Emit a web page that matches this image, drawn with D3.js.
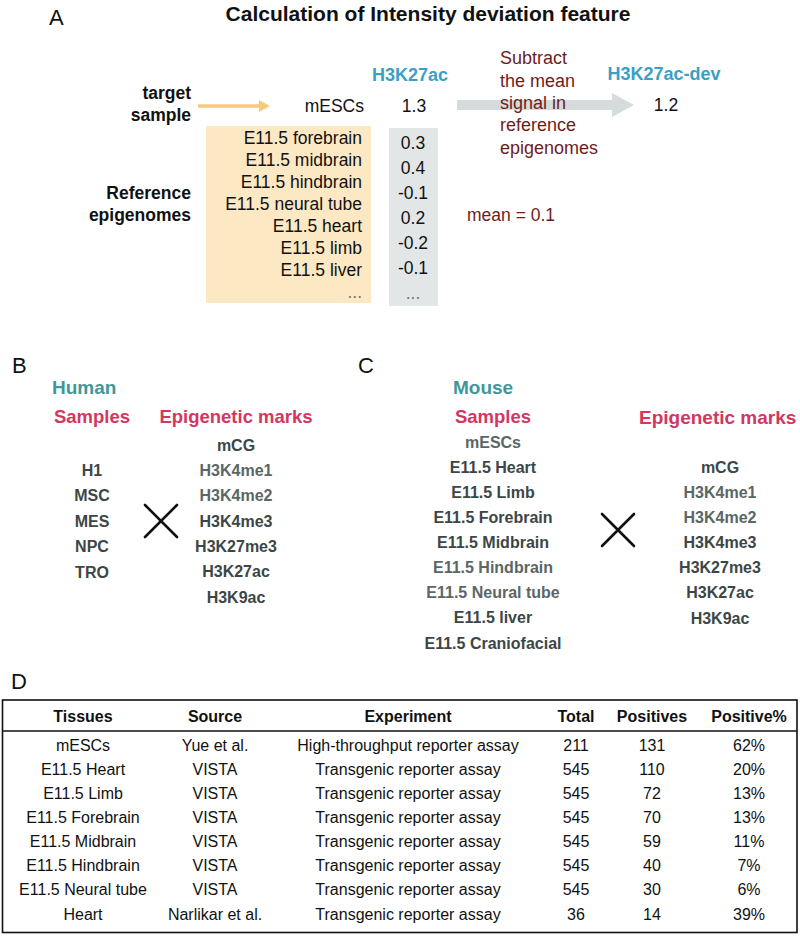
<!DOCTYPE html>
<html>
<head>
<meta charset="utf-8">
<script src="https://cdn.jsdelivr.net/npm/d3@7"></script>
<style>
  html, body { margin: 0; padding: 0; background: #fff; }
  svg { display: block; font-family: "Liberation Sans", Arial, Helvetica, sans-serif; }
</style>
</head>
<body>
<div id="chart"></div>
<script>
// ---------------- DATA ----------------
const titleText = "Calculation of Intensity deviation feature";
const markName = "H3K27ac";
const devName = "H3K27ac-dev";
const targetSample = "mESCs";
const targetValue = 1.3;
const devValue = 1.2;
const meanValue = 0.1;
const refSamples = ["E11.5 forebrain", "E11.5 midbrain", "E11.5 hindbrain", "E11.5 neural tube",
                    "E11.5 heart", "E11.5 limb", "E11.5 liver", "..."];
const refValues = [0.3, 0.4, -0.1, 0.2, -0.2, -0.1];
const subtractLines = ["Subtract", "the mean", "signal in", "reference", "epigenomes"];

const humanSamples = ["H1", "MSC", "MES", "NPC", "TRO"];
const epiMarks = ["mCG", "H3K4me1", "H3K4me2", "H3K4me3", "H3K27me3", "H3K27ac", "H3K9ac"];
const mouseSamples = ["mESCs", "E11.5 Heart", "E11.5 Limb", "E11.5 Forebrain", "E11.5 Midbrain",
                      "E11.5 Hindbrain", "E11.5 Neural tube", "E11.5 liver", "E11.5 Craniofacial"];

const tableColumns = ["Tissues", "Source", "Experiment", "Total", "Positives", "Positive%"];
const tissues = ["mESCs", "E11.5 Heart", "E11.5 Limb", "E11.5 Forebrain", "E11.5 Midbrain",
                 "E11.5 Hindbrain", "E11.5 Neural tube", "Heart"];
const sources = ["Yue et al.", "VISTA", "VISTA", "VISTA", "VISTA", "VISTA", "VISTA", "Narlikar et al."];
const experiments = ["High-throughput reporter assay", "Transgenic reporter assay", "Transgenic reporter assay",
                     "Transgenic reporter assay", "Transgenic reporter assay", "Transgenic reporter assay",
                     "Transgenic reporter assay", "Transgenic reporter assay"];
const totals = [211, 545, 545, 545, 545, 545, 545, 36];
const positives = [131, 110, 72, 70, 59, 40, 30, 14];
const positivePct = [62, 20, 13, 13, 11, 7, 6, 39];

// ---------------- STYLE ----------------
const W = 800, H = 937;
const C = {
  blue: "#3b9fc6", darkred: "#6f1c1c", yellow: "#f6c97c", peach: "#fde8c4",
  grayBox: "#e3e6e6", grayArrow: "#d6dbdb", teal: "#3f9898", crimson: "#d3375f",
  item: "#3d4646", itemLight: "#5b6666"
};
const lighterHuman = new Set(["H3K4me1", "H3K4me2"]);
const lighterMouse = new Set(["mESCs", "E11.5 Hindbrain", "E11.5 Neural tube", "H3K4me1", "H3K4me2"]);
const fmt1 = v => v.toFixed(1);   // plain hyphen-minus, as in the figure

const svg = d3.select("#chart").append("svg").attr("width", W).attr("height", H);
svg.append("rect").attr("width", W).attr("height", H).attr("fill", "#fff");

function txt(g, x, y, s, o = {}) {
  return g.append("text").attr("x", x).attr("y", y).attr("dy", "0.35em")
    .attr("text-anchor", o.anchor || "start")
    .attr("font-size", o.size || 16)
    .attr("font-weight", o.bold ? "bold" : "normal")
    .attr("fill", o.color || "#111")
    .text(s);
}

// ---------------- PANEL A ----------------
const A = svg.append("g");
A.append("text").attr("x", 49).attr("y", 25).attr("font-size", 22).attr("fill", "#111").text("A");
A.append("text").attr("x", 428).attr("y", 21).attr("text-anchor", "middle")
  .attr("font-size", 21).attr("font-weight", "bold").attr("fill", "#111").text(titleText);

txt(A, 410, 75, markName, { anchor: "middle", bold: true, size: 18, color: C.blue });
txt(A, 664, 74, devName, { anchor: "middle", bold: true, size: 18, color: C.blue });

txt(A, 191, 93, "target", { anchor: "end", bold: true, size: 17.5 });
txt(A, 191, 115, "sample", { anchor: "end", bold: true, size: 17.5 });

// yellow arrow
A.append("line").attr("x1", 198).attr("x2", 262).attr("y1", 106).attr("y2", 106)
  .attr("stroke", C.yellow).attr("stroke-width", 3.5);
A.append("path").attr("d", "M259,100 L270,106 L259,112 Z").attr("fill", C.yellow);

txt(A, 364, 106, targetSample, { anchor: "end", size: 17.5 });
txt(A, 414, 106, fmt1(targetValue), { anchor: "middle", size: 17.5 });

// gray arrow
const ay = 105;
A.append("path")
  .attr("d", `M457,${ay - 5} L612,${ay - 5} L612,${ay - 12} L634,${ay} L612,${ay + 12} L612,${ay + 5} L457,${ay + 5} Z`)
  .attr("fill", C.grayArrow);

subtractLines.forEach((s, i) => txt(A, 500, 58 + i * 22.3, s, { size: 18, color: C.darkred }));
txt(A, 666, 105, fmt1(devValue), { anchor: "middle", size: 17.5 });

// reference boxes
A.append("rect").attr("x", 206).attr("y", 126).attr("width", 165).attr("height", 177).attr("fill", C.peach);
A.append("rect").attr("x", 389).attr("y", 128).attr("width", 49).attr("height", 178).attr("fill", C.grayBox);

const yRef = d3.scalePoint().domain(refSamples).range([138, 292]);
refSamples.forEach(s => txt(A, 362, yRef(s), s, { anchor: "end", size: 17.5, color: s === "..." ? "#777" : "#111" }));

const valLabels = refValues.map(fmt1).concat(["..."]);
const yVal = d3.scalePoint().domain(d3.range(valLabels.length)).range([143, 293]);
valLabels.forEach((s, i) => txt(A, 413, yVal(i), s, { anchor: "middle", size: 17.5, color: s === "..." ? "#777" : "#111" }));

txt(A, 191, 193, "Reference", { anchor: "end", bold: true, size: 17.5 });
txt(A, 191, 215, "epigenomes", { anchor: "end", bold: true, size: 17.5 });
txt(A, 467, 215, "mean = " + fmt1(meanValue), { size: 17.5, color: C.darkred });

// ---------------- PANEL B ----------------
const B = svg.append("g");
B.append("text").attr("x", 12).attr("y", 373).attr("font-size", 22).attr("fill", "#111").text("B");
txt(B, 52, 387, "Human", { bold: true, size: 19, color: C.teal });
txt(B, 92, 417, "Samples", { anchor: "middle", bold: true, size: 18.5, color: C.crimson });
txt(B, 236, 417, "Epigenetic marks", { anchor: "middle", bold: true, size: 18.5, color: C.crimson });

const yHumanS = d3.scalePoint().domain(humanSamples).range([470, 572]);
humanSamples.forEach(s => txt(B, 92, yHumanS(s), s, { anchor: "middle", bold: true, size: 16, color: C.item }));
const yHumanM = d3.scalePoint().domain(epiMarks).range([445, 597]);
epiMarks.forEach(s => txt(B, 236, yHumanM(s), s, { anchor: "middle", bold: true, size: 16,
  color: lighterHuman.has(s) ? C.itemLight : C.item }));

function cross(g, cx, cy, r) {
  g.append("path").attr("d", `M${cx - r},${cy - r} L${cx + r},${cy + r} M${cx + r},${cy - r} L${cx - r},${cy + r}`)
    .attr("stroke", "#111").attr("stroke-width", 2.6).attr("stroke-linecap", "round");
}
cross(B, 161, 521, 16);

// ---------------- PANEL C ----------------
const Cg = svg.append("g");
Cg.append("text").attr("x", 358).attr("y", 373).attr("font-size", 22).attr("fill", "#111").text("C");
txt(Cg, 453, 387, "Mouse", { bold: true, size: 19, color: C.teal });
txt(Cg, 493, 417, "Samples", { anchor: "middle", bold: true, size: 18.5, color: C.crimson });
txt(Cg, 639, 417, "Epigenetic marks", { bold: true, size: 19, color: C.crimson });

const yMouseS = d3.scalePoint().domain(mouseSamples).range([442, 643]);
mouseSamples.forEach(s => txt(Cg, 493, yMouseS(s), s, { anchor: "middle", bold: true, size: 16,
  color: lighterMouse.has(s) ? C.itemLight : C.item }));
const yMouseM = d3.scalePoint().domain(epiMarks).range([467, 618]);
epiMarks.forEach(s => txt(Cg, 720, yMouseM(s), s, { anchor: "middle", bold: true, size: 16,
  color: lighterMouse.has(s) ? C.itemLight : C.item }));
cross(Cg, 618, 530, 16);

// ---------------- PANEL D ----------------
const D = svg.append("g");
D.append("text").attr("x", 11).attr("y", 689).attr("font-size", 22).attr("fill", "#111").text("D");

D.append("rect").attr("x", 2.5).attr("y", 700).attr("width", 794.5).attr("height", 232.5)
  .attr("fill", "none").attr("stroke", "#111").attr("stroke-width", 1.6);
D.append("line").attr("x1", 2.5).attr("x2", 797).attr("y1", 731).attr("y2", 731)
  .attr("stroke", "#111").attr("stroke-width", 1.3);

const colX = d3.scaleOrdinal().domain(tableColumns).range([83, 215, 408, 576, 652, 749]);
tableColumns.forEach(c => txt(D, colX(c), 716, c, { anchor: "middle", bold: true, size: 16 }));

const rowY = d3.scalePoint().domain(d3.range(tissues.length)).range([745, 914]);
const cols = [tissues, sources, experiments, totals, positives, positivePct.map(p => p + "%")];
tissues.forEach((t, i) => {
  cols.forEach((arr, j) => txt(D, colX(tableColumns[j]), rowY(i), String(arr[i]), { anchor: "middle", size: 16 }));
});
</script>
</body>
</html>
